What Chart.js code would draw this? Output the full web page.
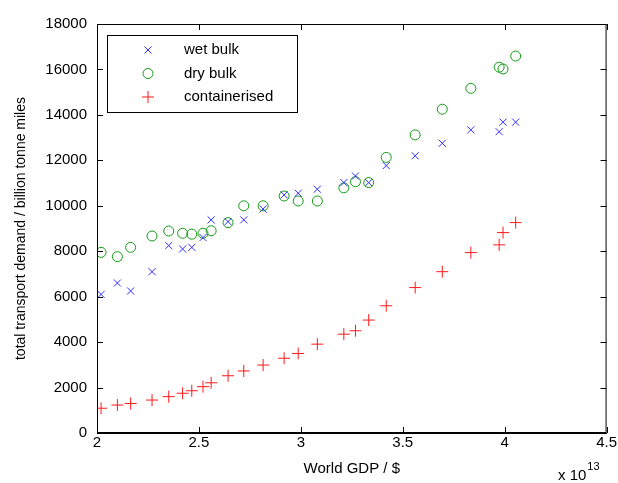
<!DOCTYPE html>
<html>
<head>
<meta charset="utf-8">
<script src="https://cdn.jsdelivr.net/npm/chart.js@4/dist/chart.umd.min.js"></script>
<style>
  html, body { margin: 0; padding: 0; background: #fff; }
  #c { display: block; }
</style>
</head>
<body>
<canvas id="c" width="618" height="483"></canvas>
<script>
// World GDP in units of 10^13 $
const gdp = [2.02, 2.10, 2.165, 2.27, 2.352, 2.42, 2.465, 2.52, 2.56, 2.643, 2.72, 2.815,
             2.918, 2.987, 3.081, 3.211, 3.268, 3.333, 3.419, 3.561, 3.694, 3.834, 3.973, 3.992, 4.054];
// total transport demand / billion tonne miles
const wetBulk = [6100, 6600, 6250, 7100, 8250, 8100, 8170, 8600, 9380, 9300, 9380, 9860,
                 10480, 10550, 10730, 11020, 11310, 11020, 11770, 12200, 12750, 13340, 13260, 13680, 13680];
const dryBulk = [7950, 7760, 8170, 8670, 8890, 8790, 8750, 8790, 8900, 9260, 10000, 10000,
                 10430, 10210, 10210, 10790, 11060, 11020, 12130, 13120, 14250, 15170, 16100, 16020, 16590];
const containerised = [1090, 1230, 1300, 1450, 1600, 1750, 1860, 2040, 2210, 2520, 2730, 2990,
                       3290, 3500, 3910, 4350, 4500, 4970, 5600, 6400, 7100, 7940, 8280, 8820, 9260];
const seriesNames = ['wet bulk', 'dry bulk', 'containerised'];
const xTicks = [2, 2.5, 3, 3.5, 4, 4.5];
const yTicks = [0, 2000, 4000, 6000, 8000, 10000, 12000, 14000, 16000, 18000];

const FONT = 'Liberation Sans, Arial, Helvetica, sans-serif';
const toPts = ys => ys.map((y, i) => ({ x: gdp[i], y }));

const BLUE = 'rgb(45,45,255)', GREEN = 'rgb(20,155,20)', RED = 'rgb(255,25,25)';

const boxPlugin = {
  id: 'matlabBox',
  afterDraw(chart) {
    const { ctx, chartArea: a, scales } = chart;
    ctx.save();
    ctx.strokeStyle = '#000';
    ctx.lineWidth = 1;
    ctx.strokeRect(a.left + 0.5, a.top + 0.5, a.right - a.left - 1, a.bottom - a.top - 1);
    const tl = 6;
    ctx.beginPath();
    xTicks.forEach(v => {
      const px = Math.round(scales.x.getPixelForValue(v)) + 0.5;
      ctx.moveTo(px, a.bottom); ctx.lineTo(px, a.bottom - tl);
      ctx.moveTo(px, a.top); ctx.lineTo(px, a.top + tl);
    });
    yTicks.forEach(v => {
      const py = Math.round(scales.y.getPixelForValue(v)) + 0.5;
      ctx.moveTo(a.left, py); ctx.lineTo(a.left + tl, py);
      ctx.moveTo(a.right, py); ctx.lineTo(a.right - tl, py);
    });
    ctx.stroke();

    // legend
    const lx = 107, ly = 35, lw = 190, lh = 77;
    ctx.fillStyle = '#fff';
    ctx.fillRect(lx, ly, lw, lh);
    ctx.strokeStyle = '#000';
    ctx.strokeRect(lx + 0.5, ly + 0.5, lw, lh);
    const rows = [50, 73.5, 97];
    chart.data.datasets.forEach((ds, i) => {
      ctx.lineWidth = 1;
      ctx.strokeStyle = ds.borderColor;
      ctx.fillStyle = ds.backgroundColor;
      Chart.helpers.drawPoint(ctx, {
        pointStyle: ds.pointStyle, radius: ds.pointRadius, borderWidth: 1, rotation: 0
      }, 148, rows[i]);
      ctx.fillStyle = '#000';
      ctx.font = '15px ' + FONT;
      ctx.textBaseline = 'middle';
      ctx.textAlign = 'left';
      ctx.fillText(ds.label, 184, rows[i]);
    });

    // exponent label
    ctx.fillStyle = '#000';
    ctx.textBaseline = 'alphabetic';
    ctx.textAlign = 'left';
    ctx.font = '15px ' + FONT;
    ctx.fillText('x 10', 558, 480);
    const w = ctx.measureText('x 10').width;
    ctx.font = '11px ' + FONT;
    ctx.fillText('13', 558 + w + 1, 470);
    ctx.restore();
  }
};

new Chart(document.getElementById('c'), {
  type: 'scatter',
  data: {
    datasets: [
      { label: seriesNames[0], data: toPts(wetBulk), pointStyle: 'crossRot', pointRadius: 5,
        borderColor: BLUE, backgroundColor: BLUE, borderWidth: 1, pointHoverRadius: 5 },
      { label: seriesNames[1], data: toPts(dryBulk), pointStyle: 'circle', pointRadius: 5,
        borderColor: GREEN, backgroundColor: 'rgba(0,0,0,0)', borderWidth: 1, pointHoverRadius: 5 },
      { label: seriesNames[2], data: toPts(containerised), pointStyle: 'cross', pointRadius: 6,
        borderColor: RED, backgroundColor: RED, borderWidth: 1, pointHoverRadius: 6 }
    ]
  },
  options: {
    responsive: false,
    animation: false,
    devicePixelRatio: 1,
    layout: { padding: { top: 24, right: 9, left: 0, bottom: 0 } },
    plugins: { legend: { display: false }, tooltip: { enabled: false } },
    scales: {
      x: {
        type: 'linear', min: 2, max: 4.5,
        afterFit(s) { s.height = 50; },
        afterBuildTicks(s) { s.ticks = xTicks.map(v => ({ value: v })); },
        grid: { display: false, drawTicks: false },
        border: { display: true, color: '#000' },
        ticks: { color: '#000', font: { family: FONT, size: 15 }, padding: 1,
                 callback: v => String(v) },
        title: { display: true, text: 'World GDP / $', color: '#000',
                 font: { family: FONT, size: 15 }, padding: { top: 0, bottom: 5 } }
      },
      y: {
        type: 'linear', min: 0, max: 18000,
        afterFit(s) { s.width = 97; },
        afterBuildTicks(s) { s.ticks = yTicks.map(v => ({ value: v })); },
        grid: { display: false, drawTicks: false },
        border: { display: true, color: '#000' },
        ticks: { color: '#000', font: { family: FONT, size: 15 }, padding: 10,
                 callback: v => String(v) },
        title: { display: true, text: 'total transport demand / billion tonne miles', color: '#000',
                 font: { family: FONT, size: 14 }, padding: { top: 13, bottom: 0 } }
      }
    }
  },
  plugins: [boxPlugin]
});
</script>
</body>
</html>
